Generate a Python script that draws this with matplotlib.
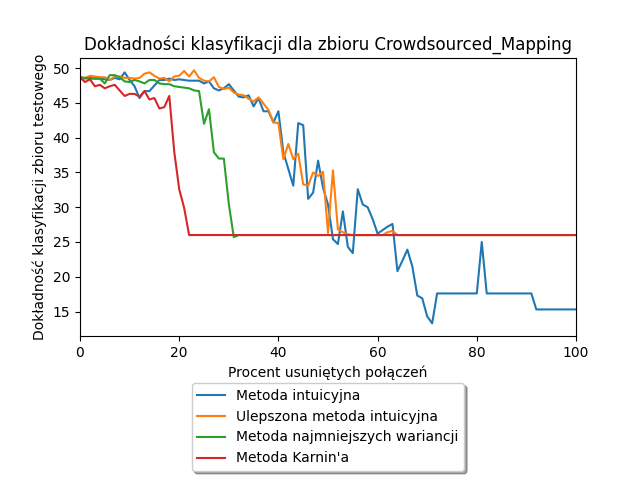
import numpy as np
import matplotlib
matplotlib.use('Agg')
import matplotlib.pyplot as plt

# procent usunietych polaczen 0..100
procent = np.arange(0, 101)

intuicyjna = [
    48.7, 48.5, 48.6, 48.5, 48.5, 48.4, 48.3, 48.6, 48.4, 49.4,
    48.3, 47.4, 45.7, 46.7, 46.7, 47.5, 48.3, 48.3, 48.5, 48.3,
    48.4, 48.3, 48.2, 48.2, 48.2, 47.8, 48.1, 47.1, 46.8, 47.1,
    47.7, 46.8, 45.9, 45.8, 46.1, 44.5, 45.7, 43.8, 43.8, 42.2,
    43.8, 37.9, 35.5, 33.1, 42.1, 41.8, 31.2, 32.1, 36.7, 32.8,
    30.4, 25.4, 24.7, 29.4, 24.3, 23.4, 32.6, 30.4, 30.0, 28.3,
    26.2, 26.7, 27.2, 27.6, 20.8, 22.3, 23.9, 21.5, 17.3, 16.9,
    14.3, 13.3, 17.6, 17.6, 17.6, 17.6, 17.6, 17.6, 17.6, 17.6,
    17.6, 25.0, 17.6, 17.6, 17.6, 17.6, 17.6, 17.6, 17.6, 17.6,
    17.6, 17.6, 15.3, 15.3, 15.3, 15.3, 15.3, 15.3, 15.3, 15.3,
    15.3]

ulepszona = [
    48.6, 48.6, 48.9, 48.8, 48.7, 48.7, 48.3, 48.8, 48.8, 48.6,
    48.6, 48.5, 48.6, 49.2, 49.4, 48.9, 48.5, 48.6, 48.1, 48.8,
    48.9, 49.6, 48.8, 49.7, 48.6, 48.2, 48.1, 48.7, 47.3, 47.0,
    47.2, 46.5, 46.2, 46.1, 45.6, 45.2, 45.8, 44.9, 44.0, 42.2,
    42.1, 36.9, 39.1, 36.9, 37.7, 33.3, 33.1, 35.0, 34.5, 35.1,
    26.3, 35.3, 26.8, 26.4, 26.1, 26.0, 26.0, 26.0, 26.0, 26.0,
    26.0, 26.0, 26.4, 26.6, 26.0, 26.0, 26.0, 26.0, 26.0, 26.0,
    26.0, 26.0, 26.0, 26.0, 26.0, 26.0, 26.0, 26.0, 26.0, 26.0,
    26.0, 26.0, 26.0, 26.0, 26.0, 26.0, 26.0, 26.0, 26.0, 26.0,
    26.0, 26.0, 26.0, 26.0, 26.0, 26.0, 26.0, 26.0, 26.0, 26.0,
    26.0]

najmniejsze_wariancje = [
    48.7, 48.6, 48.5, 48.5, 48.5, 47.8, 49.0, 49.0, 48.7, 48.1,
    48.0, 48.3, 48.1, 47.8, 48.3, 48.3, 47.8, 47.7, 47.7, 47.4,
    47.3, 47.2, 47.1, 46.8, 46.7, 42.0, 44.1, 37.9, 37.0, 37.0,
    30.5, 25.7, 26.0, 26.0, 26.0, 26.0, 26.0, 26.0, 26.0, 26.0,
    26.0, 26.0, 26.0, 26.0, 26.0, 26.0, 26.0, 26.0, 26.0, 26.0,
    26.0, 26.0, 26.0, 26.0, 26.0, 26.0, 26.0, 26.0, 26.0, 26.0,
    26.0, 26.0, 26.0, 26.0, 26.0, 26.0, 26.0, 26.0, 26.0, 26.0,
    26.0, 26.0, 26.0, 26.0, 26.0, 26.0, 26.0, 26.0, 26.0, 26.0,
    26.0, 26.0, 26.0, 26.0, 26.0, 26.0, 26.0, 26.0, 26.0, 26.0,
    26.0, 26.0, 26.0, 26.0, 26.0, 26.0, 26.0, 26.0, 26.0, 26.0,
    26.0]

karnin = [
    48.7, 48.0, 48.4, 47.4, 47.6, 47.1, 47.4, 47.6, 46.8, 46.0,
    46.3, 46.3, 45.9, 46.7, 45.5, 45.7, 44.2, 44.4, 46.0, 38.0,
    32.6, 29.9, 26.0, 26.0, 26.0, 26.0, 26.0, 26.0, 26.0, 26.0,
    26.0, 26.0, 26.0, 26.0, 26.0, 26.0, 26.0, 26.0, 26.0, 26.0,
    26.0, 26.0, 26.0, 26.0, 26.0, 26.0, 26.0, 26.0, 26.0, 26.0,
    26.0, 26.0, 26.0, 26.0, 26.0, 26.0, 26.0, 26.0, 26.0, 26.0,
    26.0, 26.0, 26.0, 26.0, 26.0, 26.0, 26.0, 26.0, 26.0, 26.0,
    26.0, 26.0, 26.0, 26.0, 26.0, 26.0, 26.0, 26.0, 26.0, 26.0,
    26.0, 26.0, 26.0, 26.0, 26.0, 26.0, 26.0, 26.0, 26.0, 26.0,
    26.0, 26.0, 26.0, 26.0, 26.0, 26.0, 26.0, 26.0, 26.0, 26.0,
    26.0]

etykiety = ['Metoda intuicyjna', 'Ulepszona metoda intuicyjna',
            'Metoda najmniejszych wariancji', "Metoda Karnin'a"]

fig = plt.figure(figsize=(6.4, 4.8), dpi=100)
plt.plot(procent, intuicyjna, label=etykiety[0])
plt.plot(procent, ulepszona, label=etykiety[1])
plt.plot(procent, najmniejsze_wariancje, label=etykiety[2])
plt.plot(procent, karnin, label=etykiety[3])
plt.xlim(0, 100)
plt.title('Dokładności klasyfikacji dla zbioru Crowdsourced_Mapping')
plt.xlabel('Procent usuniętych połączeń')
plt.ylabel('Dokładność klasyfikacji zbioru testowego')
plt.legend(loc='upper center', bbox_to_anchor=(0.5, -0.144), shadow=True)
plt.subplots_adjust(bottom=0.3)
plt.savefig('out.png')
